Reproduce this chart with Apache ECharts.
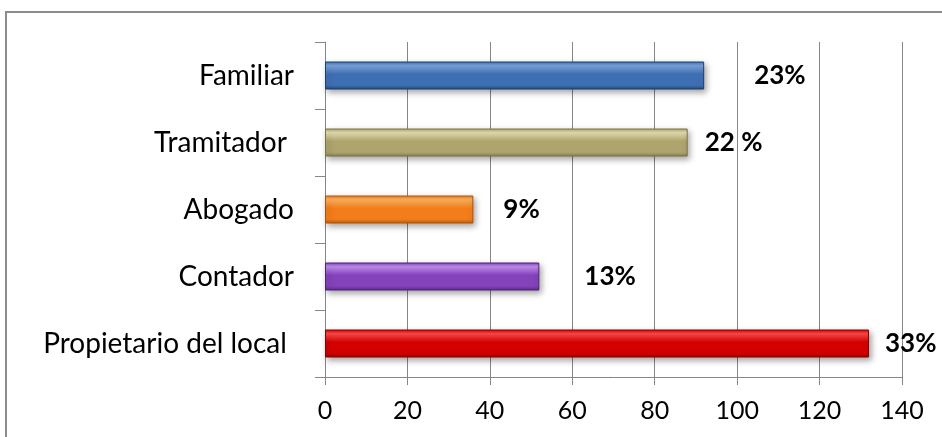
<!DOCTYPE html>
<html>
<head>
<meta charset="utf-8">
<script src="https://cdn.jsdelivr.net/npm/echarts@6/dist/echarts.min.js"></script>
<style>
  html, body { margin: 0; padding: 0; background: #fff; }
  #chart { width: 942px; height: 437px; }
</style>
</head>
<body>
<div id="chart"></div>
<script>
// Categories, top to bottom
var categories = ['Familiar', 'Tramitador ', 'Abogado', 'Contador', 'Propietario del local '];
// Counts per category
var values = [92, 88, 36, 52, 132];
// Share labels shown beside each bar
var shareLabels = ['23%', '22 %', '9%', '13%', '33%'];
// Gap between bar end and its label
var labelGaps = [50, 17, 30, 45, 16];
// Value axis ticks
var xTicks = [0, 20, 40, 60, 80, 100, 120, 140];

// Bar fills: [top highlight, body, bottom shade, border]
var palettes = [
  ['#7aa5dc', '#3f6fb3', '#234a82', '#1d3f70'],
  ['#e6dfb0', '#ada46e', '#8a824f', '#7a7344'],
  ['#ffb25e', '#f27d1a', '#c35c08', '#b05206'],
  ['#c18ef0', '#8442bb', '#5c2a8c', '#4f2279'],
  ['#ff4a4a', '#d40000', '#9c0000', '#8a0000']
];

function fillFor(p) {
  return {
    type: 'linear', x: 0, y: 0, x2: 0, y2: 1,
    colorStops: [
      { offset: 0, color: p[1] },
      { offset: 0.15, color: p[0] },
      { offset: 0.45, color: p[1] },
      { offset: 0.85, color: p[1] },
      { offset: 1, color: p[2] }
    ]
  };
}

var barData = values.map(function (v, i) {
  var p = palettes[i];
  return {
    value: v,
    itemStyle: {
      color: fillFor(p),
      borderColor: p[3],
      borderWidth: 1,
      shadowColor: 'rgba(0,0,0,0.35)',
      shadowBlur: 6,
      shadowOffsetX: 2,
      shadowOffsetY: 3
    },
    label: {
      distance: labelGaps[i],
      formatter: shareLabels[i]
    }
  };
});

var chart = echarts.init(document.getElementById('chart'), null, { renderer: 'canvas' });

chart.setOption({
  backgroundColor: '#ffffff',
  animation: false,
  graphic: [{
    type: 'rect',
    shape: { x: 6, y: 12, width: 945, height: 440 },
    style: { fill: 'none', stroke: '#8c8c8c', lineWidth: 2 },
    silent: true
  }],
  grid: { left: 325, right: 40, top: 42, bottom: 60, containLabel: false },
  xAxis: {
    type: 'value',
    min: xTicks[0],
    max: xTicks[xTicks.length - 1],
    interval: xTicks[1] - xTicks[0],
    axisLine: { show: true, lineStyle: { color: '#868686', width: 1 } },
    axisTick: { show: true, length: 8, lineStyle: { color: '#868686' } },
    splitLine: { show: true, lineStyle: { color: '#868686', width: 1 } },
    axisLabel: {
      color: '#000', fontFamily: 'Lato', fontSize: 25, margin: 21
    }
  },
  yAxis: {
    type: 'category',
    inverse: true,
    data: categories,
    axisLine: { show: true, lineStyle: { color: '#868686', width: 1 } },
    axisTick: { show: true, length: 10, alignWithLabel: false, lineStyle: { color: '#868686' } },
    axisLabel: {
      color: '#000', fontFamily: 'Lato', fontSize: 28, margin: 31
    }
  },
  series: [{
    type: 'bar',
    data: barData,
    barWidth: 28,
    label: {
      show: true,
      position: 'right',
      color: '#000',
      fontFamily: 'Lato',
      fontWeight: 'bold',
      fontSize: 26
    }
  }]
});
</script>
</body>
</html>
